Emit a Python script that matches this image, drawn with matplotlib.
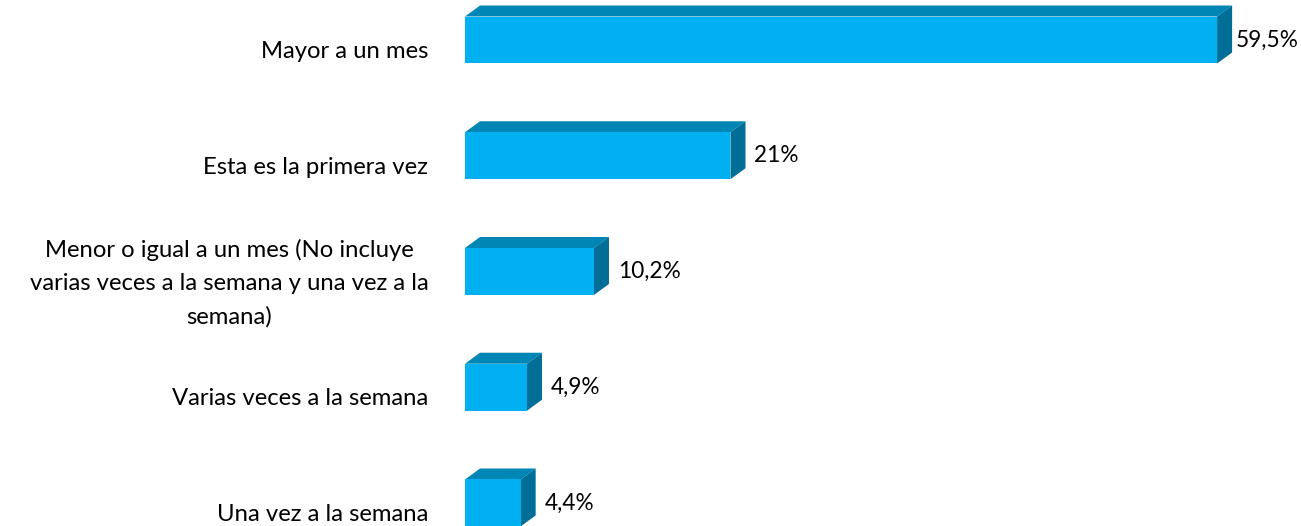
import matplotlib.pyplot as plt
from matplotlib.patches import Polygon

# Data
categories = [
    "Mayor a un mes",
    "Esta es la primera vez",
    "Menor o igual a un mes (No incluye\nvarias veces a la semana y una vez a la\nsemana)",
    "Varias veces a la semana",
    "Una vez a la semana",
]
values = [59.5, 21, 10.2, 4.9, 4.4]
value_labels = ["59,5%", "21%", "10,2%", "4,9%", "4,4%"]

front_color = "#00B0F0"
top_color = "#0086B4"
side_color = "#006E96"

plt.rcParams['font.family'] = ['Lato', 'DejaVu Sans']

fig = plt.figure(figsize=(13.01, 5.26), dpi=100)
ax = fig.add_axes([465 / 1301, 0, 1 - 465 / 1301, 1])

bar_h = 0.406
dx = 1.19   # depth offset in x (data units)
dy = 0.095  # depth offset in y (data units, upwards)
xmax = (1301 - 465) / 12.64
label_limit = xmax - 5.2  # keep value labels inside the figure

ypos = list(range(len(values)))
ax.barh(ypos, values, height=bar_h, color=front_color, zorder=3)

for y, v, lab in zip(ypos, values, value_labels):
    top = y - bar_h / 2
    bot = y + bar_h / 2
    # top face
    ax.add_patch(Polygon([(0, top), (dx, top - dy), (v + dx, top - dy), (v, top)],
                         closed=True, facecolor=top_color, edgecolor='none', zorder=2))
    # side face
    ax.add_patch(Polygon([(v, top), (v + dx, top - dy), (v + dx, bot - dy), (v, bot)],
                         closed=True, facecolor=side_color, edgecolor='none', zorder=2))
    ax.text(min(v + 1.9, label_limit), y, lab, ha='left', va='center',
            fontsize=16.3, color='#000000')

for y, cat in zip(ypos, categories):
    ax.text(-2.9, y + 0.1, cat, ha='right', va='center', multialignment='center',
            fontsize=17.2, linespacing=1.68, color='#000000', clip_on=False)

ax.set_xlim(0, xmax)
ax.set_ylim(4.199, -0.3456)
ax.axis('off')

fig.savefig("out.png", dpi=100)
